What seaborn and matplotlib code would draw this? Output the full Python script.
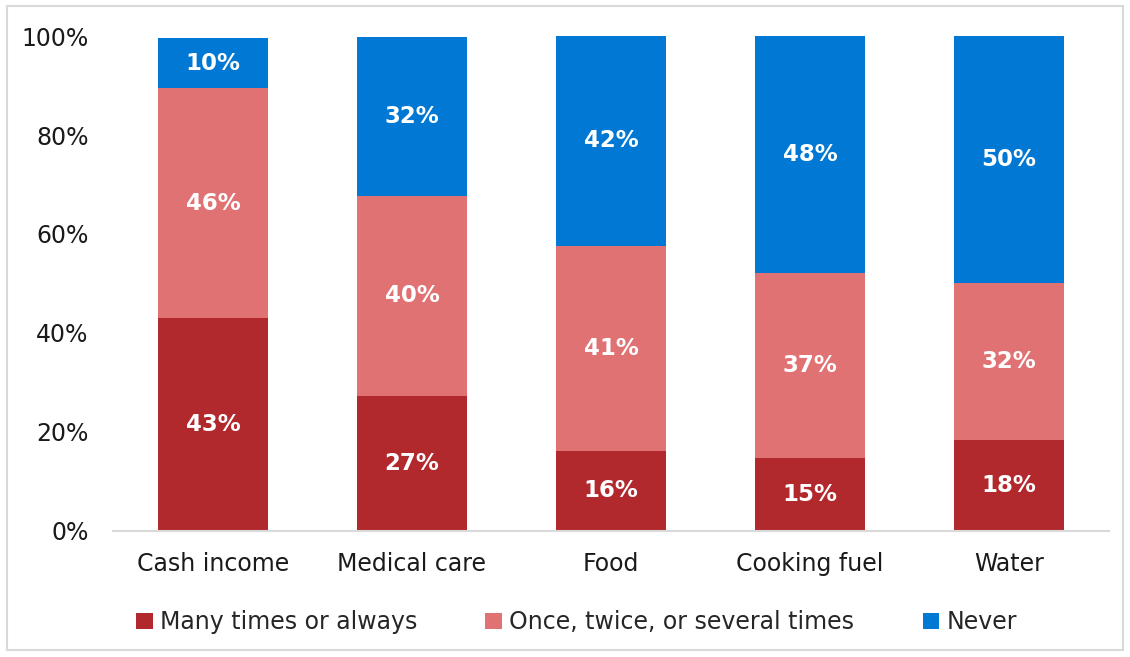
import numpy as np
import pandas as pd
import matplotlib
matplotlib.use("Agg")
import matplotlib.pyplot as plt
import seaborn as sns
from matplotlib.patches import Rectangle
from matplotlib.ticker import PercentFormatter

# Data (share of respondents, %)
categories = ["Cash income", "Medical care", "Food", "Cooking fuel", "Water"]
series_names = ["Many times or always", "Once, twice, or several times", "Never"]
many_times = [43.0, 27.3, 16.2, 14.7, 18.4]
once_twice = [46.4, 40.4, 41.4, 37.4, 31.7]
never = [10.1, 32.0, 42.4, 47.9, 49.9]
colors = ["#B1282D", "#E07274", "#0078D4"]

sns.set_style("white")
plt.rcParams["font.family"] = ["DejaVu Sans"]

fig = plt.figure(figsize=(11.3, 6.57), dpi=100)
ax = fig.add_axes([0.1004, 0.1918, 0.8806, 0.7534])

bottom = np.zeros(len(categories))
for name, vals, col in zip(series_names, [many_times, once_twice, never], colors):
    df = pd.DataFrame({"category": categories, "value": vals})
    sns.barplot(data=df, x="category", y="value", color=col, width=0.553,
                bottom=bottom, ax=ax, label=name, saturation=1, linewidth=0)
    bottom = bottom + np.array(vals)

for cont in ax.containers:
    labels = [f"{round(b.get_height()):.0f}%" for b in cont]
    ax.bar_label(cont, labels=labels, label_type="center", color="white",
                 fontsize=16.5, fontweight="bold")

ax.set_ylim(0, 100)
ax.set_xlim(-0.5, 4.5)
ax.set_yticks([0, 20, 40, 60, 80, 100])
ax.yaxis.set_major_formatter(PercentFormatter(decimals=0))
ax.set_xlabel("")
ax.set_ylabel("")
ax.tick_params(axis="both", labelsize=17, length=0, colors="#1a1a1a")
ax.tick_params(axis="y", pad=18)
ax.tick_params(axis="x", pad=15)
for s in ["top", "right", "left"]:
    ax.spines[s].set_visible(False)
ax.spines["bottom"].set_color("#D9D9D9")
ax.spines["bottom"].set_linewidth(1.5)

if ax.legend_:
    ax.legend_.remove()
handles, labs = ax.get_legend_handles_labels()
fig.legend(handles, labs, loc="center", bbox_to_anchor=(0.51, 0.053), ncol=3,
           frameon=False, fontsize=17, handlelength=0.7, handleheight=0.7,
           handletextpad=0.3, columnspacing=2.9)

fig.patches.append(Rectangle((0.006, 0.01), 0.988, 0.981, transform=fig.transFigure,
                             fill=False, edgecolor="#D9D9D9", linewidth=1.5))

fig.savefig("out.png", dpi=100)
